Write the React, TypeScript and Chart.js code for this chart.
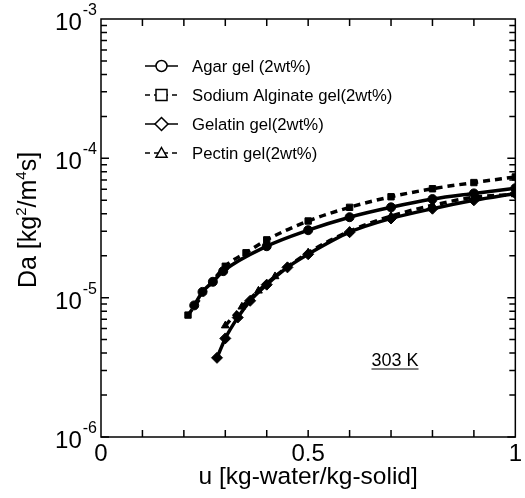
import React, { useEffect, useRef } from "react";
import { Chart, registerables } from "chart.js";

Chart.register(...registerables);

const agarU = [0.225, 0.245, 0.27, 0.295, 0.4, 0.5, 0.6, 0.7, 0.8, 0.9, 1.0];
const agarDa = [8.8e-6, 1.1e-5, 1.3e-5, 1.55e-5, 2.34e-5, 3.05e-5, 3.78e-5, 4.45e-5, 5.1e-5, 5.6e-5, 6.1e-5];

const sodiumU = [0.21, 0.3, 0.35, 0.4, 0.5, 0.6, 0.7, 0.8, 0.9, 1.0];
const sodiumDa = [7.5e-6, 1.68e-5, 2.1e-5, 2.6e-5, 3.55e-5, 4.45e-5, 5.3e-5, 6.05e-5, 6.7e-5, 7.35e-5];

const gelatinU = [0.28, 0.3, 0.33, 0.36, 0.4, 0.45, 0.5, 0.6, 0.7, 0.8, 0.9, 1.0];
const gelatinDa = [3.7e-6, 5.1e-6, 7.2e-6, 9.5e-6, 1.24e-5, 1.65e-5, 2.05e-5, 2.95e-5, 3.7e-5, 4.35e-5, 5.0e-5, 5.6e-5];

const pectinU = [0.3, 0.34, 0.38, 0.42, 0.5, 0.6, 0.7, 0.8, 0.9, 1.0];
const pectinDa = [6.3e-6, 8.6e-6, 1.12e-5, 1.42e-5, 2.1e-5, 3.0e-5, 3.85e-5, 4.6e-5, 5.25e-5, 5.5e-5];

const seriesLabels = [
  "Agar gel (2wt%)",
  "Sodium Alginate gel(2wt%)",
  "Gelatin gel(2wt%)",
  "Pectin gel(2wt%)",
];

const xTickLabels: Record<string, string> = { "0.0": "0", "0.5": "0.5", "1.0": "1" };
const yDecades = [1e-6, 1e-5, 1e-4, 1e-3];
const yDecadeExponents = ["-6", "-5", "-4", "-3"];
const xTitle = "u [kg-water/kg-solid]";
const yTitleParts: [string, boolean][] = [
  ["Da [kg", false],
  ["2", true],
  ["/m", false],
  ["4", true],
  ["s]", false],
];
const annotationText = "303 K";

const FONT = "'Liberation Sans', Arial, Helvetica, sans-serif";

const pts = (u: number[], d: number[]) => u.map((x, i) => ({ x, y: d[i] }));

const decorPlugin = {
  id: "decor",
  afterDraw(chart: any) {
    const ctx = chart.ctx as CanvasRenderingContext2D;
    const { left, right, top, bottom } = chart.chartArea;
    const xs = chart.scales.x;
    const ys = chart.scales.y;
    ctx.save();
    ctx.strokeStyle = "#000";
    ctx.fillStyle = "#000";
    ctx.lineWidth = 1.5;
    ctx.setLineDash([]);
    ctx.strokeRect(left, top, right - left, bottom - top);

    // x ticks (inward, bottom and top)
    ctx.beginPath();
    for (let i = 1; i < 10; i++) {
      const px = xs.getPixelForValue(i / 10);
      ctx.moveTo(px, bottom);
      ctx.lineTo(px, bottom - 7);
      ctx.moveTo(px, top);
      ctx.lineTo(px, top + 7);
    }
    // y ticks (inward, left and right)
    for (let e = -6; e < -3; e++) {
      for (let m = 1; m <= 9; m++) {
        const v = m * Math.pow(10, e);
        const py = ys.getPixelForValue(v);
        const len = m === 1 ? 8 : 6;
        ctx.moveTo(left, py);
        ctx.lineTo(left + len, py);
        ctx.moveTo(right, py);
        ctx.lineTo(right - len, py);
      }
    }
    ctx.stroke();

    // y tick labels with superscripts
    yDecades.forEach((v, i) => {
      const py = ys.getPixelForValue(v);
      const rx = left - 4;
      ctx.font = `16px ${FONT}`;
      ctx.textAlign = "right";
      ctx.textBaseline = "alphabetic";
      const sup = yDecadeExponents[i];
      const sw = ctx.measureText(sup).width;
      ctx.fillText(sup, rx, py - 4);
      ctx.font = `24px ${FONT}`;
      ctx.fillText("10", rx - sw - 1, py + 11);
    });

    // y title rotated
    ctx.save();
    ctx.translate(36, 220);
    ctx.rotate(-Math.PI / 2);
    let total = 0;
    yTitleParts.forEach(([t, s]) => {
      ctx.font = `${s ? 15 : 25}px ${FONT}`;
      total += ctx.measureText(t).width;
    });
    let cx = -total / 2;
    ctx.textAlign = "left";
    ctx.textBaseline = "alphabetic";
    yTitleParts.forEach(([t, s]) => {
      ctx.font = `${s ? 15 : 25}px ${FONT}`;
      ctx.fillText(t, cx, s ? -10 : 0);
      cx += ctx.measureText(t).width;
    });
    ctx.restore();

    // legend
    chart.data.datasets.forEach((ds: any, i: number) => {
      const y = 66 + i * 29;
      ctx.save();
      ctx.lineWidth = 1.5;
      ctx.setLineDash(ds.borderDash && ds.borderDash.length ? [5, 4] : []);
      ctx.beginPath();
      ctx.moveTo(145, y);
      ctx.lineTo(178, y);
      ctx.stroke();
      ctx.setLineDash([]);
      ctx.fillStyle = "#fff";
      ctx.beginPath();
      const mx = 161.5;
      const r = 5.5;
      if (ds.pointStyle === "circle") {
        ctx.arc(mx, y, r, 0, Math.PI * 2);
      } else if (ds.pointStyle === "rect") {
        ctx.rect(mx - r, y - r, 2 * r, 2 * r);
      } else if (ds.pointStyle === "rectRot") {
        ctx.moveTo(mx, y - r - 1);
        ctx.lineTo(mx + r + 1, y);
        ctx.lineTo(mx, y + r + 1);
        ctx.lineTo(mx - r - 1, y);
        ctx.closePath();
      } else {
        ctx.moveTo(mx, y - r);
        ctx.lineTo(mx + r, y + r * 0.75);
        ctx.lineTo(mx - r, y + r * 0.75);
        ctx.closePath();
      }
      ctx.fill();
      ctx.stroke();
      ctx.fillStyle = "#000";
      ctx.font = `16.7px ${FONT}`;
      ctx.textAlign = "left";
      ctx.textBaseline = "middle";
      ctx.fillText(ds.label, 192, y + 1);
      ctx.restore();
    });

    // annotation
    ctx.font = `18px ${FONT}`;
    ctx.textAlign = "center";
    ctx.textBaseline = "alphabetic";
    const ax = 395;
    const ay = 366;
    ctx.fillText(annotationText, ax, ay);
    const w = ctx.measureText(annotationText).width;
    ctx.lineWidth = 1.2;
    ctx.beginPath();
    ctx.moveTo(ax - w / 2, ay + 3);
    ctx.lineTo(ax + w / 2, ay + 3);
    ctx.stroke();
    ctx.restore();
  },
};

export default function App() {
  const ref = useRef<HTMLCanvasElement | null>(null);
  useEffect(() => {
    document.body.style.margin = "0";
    const common = {
      borderColor: "#000",
      pointBackgroundColor: "#000",
      pointBorderColor: "#000",
      borderWidth: 3.5,
      pointRadius: 4.5,
      pointBorderWidth: 1,
      cubicInterpolationMode: "monotone" as const,
      fill: false,
    };
    const chart = new Chart(ref.current as HTMLCanvasElement, {
      type: "line",
      data: {
        datasets: [
          { ...common, label: seriesLabels[0], data: pts(agarU, agarDa), pointStyle: "circle", borderDash: [] },
          { ...common, label: seriesLabels[1], data: pts(sodiumU, sodiumDa), pointStyle: "rect", borderDash: [7, 5] },
          { ...common, label: seriesLabels[2], data: pts(gelatinU, gelatinDa), pointStyle: "rectRot", borderDash: [], pointRadius: 5.5 },
          { ...common, label: seriesLabels[3], data: pts(pectinU, pectinDa), pointStyle: "triangle", borderDash: [7, 5] },
        ] as any,
      },
      plugins: [decorPlugin],
      options: {
        responsive: false,
        animation: false,
        layout: { padding: { top: 19, right: 8, left: 0, bottom: 0 } },
        plugins: { legend: { display: false }, tooltip: { enabled: false } },
        scales: {
          x: {
            type: "linear",
            min: 0,
            max: 1,
            grid: { display: false, drawTicks: false },
            border: { display: false },
            ticks: {
              stepSize: 0.1,
              autoSkip: false,
              maxRotation: 0,
              padding: 3,
              color: "#000",
              font: { size: 24, family: FONT },
              callback: (v: any) => xTickLabels[Number(v).toFixed(1)] ?? "",
            },
            title: {
              display: true,
              text: xTitle,
              color: "#000",
              font: { size: 24.5, family: FONT },
              padding: { top: 0, bottom: 6 },
            },
            afterFit: (s: any) => {
              s.height = 61;
            },
          },
          y: {
            type: "logarithmic",
            min: 1e-6,
            max: 1e-3,
            grid: { display: false },
            border: { display: false },
            ticks: { display: false },
            afterFit: (s: any) => {
              s.width = 101;
            },
          },
        },
      } as any,
    });
    return () => chart.destroy();
  }, []);
  return (
    <div style={{ width: 525, height: 498, background: "#fff" }}>
      <canvas ref={ref} width={525} height={498} />
    </div>
  );
}
